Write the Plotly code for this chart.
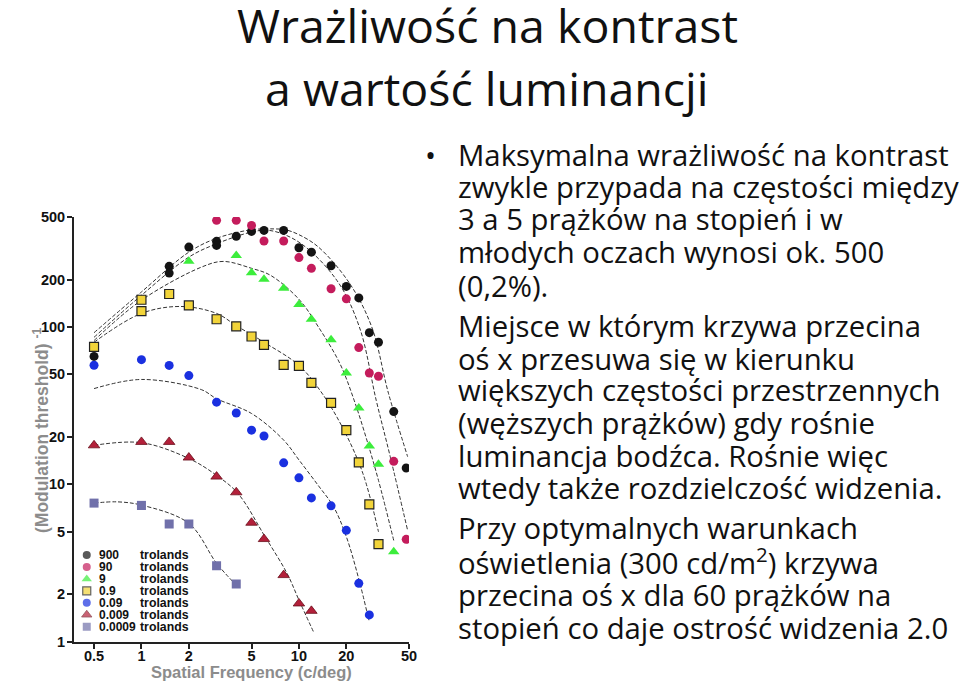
import math
import plotly.graph_objects as go

W, H = 960, 687

# ---------------- data ----------------
series_names = ["900", "90", "9", "0.9", "0.09", "0.009", "0.0009"]

f_900 = [0.5, 1.5, 1.5, 2, 3, 3, 4, 5, 6, 8, 10, 12, 16, 20, 24, 28, 32, 40, 48]
v_900 = [65, 243, 220, 322, 350, 330, 377, 405, 411, 411, 319, 299, 245, 181, 153, 92, 80, 29, 12.7]

f_90 = [3, 4, 5, 6, 8, 10, 12, 16, 20, 24, 28, 32, 40, 48]
v_90 = [476, 476, 442, 352, 352, 276, 236, 175, 151, 74, 51, 48.6, 14, 4.47]

f_9 = [2, 4, 5, 6, 8, 10, 12, 16, 20, 24, 28, 32, 40]
v_9 = [262, 285, 221, 201, 176, 139, 112, 83, 51, 30.6, 17.5, 13.4, 3.73]

f_09 = [0.5, 1, 1, 1.5, 2, 3, 4, 5, 6, 8, 10, 12, 16, 20, 24, 28, 32]
v_09 = [74.7, 149, 126, 162, 137, 112, 101, 87, 77, 57.4, 56.6, 44.1, 32.9, 22.1, 13.8, 7.45, 4.17]

f_009 = [0.5, 1, 1.5, 2, 3, 4, 5, 6, 8, 10, 12, 16, 20, 24, 28]
v_009 = [57.1, 62, 57, 49.1, 33.3, 28.4, 22.1, 20.3, 13.7, 11.0, 8.2, 7.3, 5.1, 2.35, 1.48]

f_0009 = [0.5, 1, 1.5, 2, 3, 4, 5, 6, 8, 10, 12]
v_0009 = [17.7, 18.6, 18.6, 14.8, 11.2, 8.9, 5.7, 4.49, 2.65, 1.75, 1.57]

f_00009 = [0.5, 1, 1.5, 2, 3, 4]
v_00009 = [7.6, 7.35, 5.6, 5.6, 3.04, 2.33]

# fitted curves (sampled along the dashed lines)
cf_900 = [0.5, 1, 2, 3, 5, 7, 8.2, 10, 13.3, 21, 29, 37, 49]
cv_900 = [92, 167, 299, 366, 415, 420, 415, 386, 322, 189, 100, 38, 15]
cf_90 = [0.5, 1, 2, 3, 5, 6.5, 10, 17.4, 24.2, 31, 38, 49]
cv_90 = [86, 159, 278, 338, 401, 411, 346, 198, 100, 34, 15, 5.1]
cf_9 = [0.5, 1, 2.4, 3.3, 5, 6.6, 10, 13.3, 18.2, 22.4, 27, 32, 40]
cv_9 = [82, 148, 240, 261, 236, 213, 150, 100, 58.6, 34.3, 19.1, 10.6, 4.4]
cf_09 = [0.5, 1, 1.78, 3, 4, 6, 10, 14, 19.3, 25.5, 32]
cv_09 = [80, 122, 135, 122, 102, 80, 57, 38, 22.1, 11.7, 5.0]
cf_009 = [0.5, 1, 2.4, 3, 5, 8, 10, 13.3, 16.6, 20, 24, 27.8]
cv_009 = [40.6, 46.4, 40, 35, 28.2, 19.1, 14.3, 9.8, 7.2, 4.65, 2.5, 1.37]
cf_0009 = [0.5, 1, 2, 3, 4.1, 6.1, 8.4, 10, 12.5]
cv_0009 = [17.7, 18.4, 14.6, 11.4, 8.75, 4.64, 2.72, 1.84, 1.13]
cf_00009 = [0.5, 0.7, 1, 2, 3, 3.9]
cv_00009 = [7.6, 7.74, 7.38, 5.65, 3.15, 2.35]

x_ticks = [0.5, 1, 2, 5, 10, 20, 50]
x_tick_labels = ["0.5", "1", "2", "5", "10", "20", "50"]
y_ticks = [1, 2, 5, 10, 20, 50, 100, 200, 500]
y_tick_labels = ["1", "2", "5", "10", "20", "50", "100", "200", "500"]

title_lines = ["Wrażliwość na kontrast", "a wartość luminancji"]
para1 = ["Maksymalna wrażliwość na kontrast", "zwykle przypada na częstości między",
         "3 a 5 prążków na stopień i w", "młodych oczach wynosi ok. 500", "(0,2%)."]
para2 = ["Miejsce w którym krzywa przecina", "oś x przesuwa się w kierunku",
         "większych częstości przestrzennych", "(węższych prążków) gdy rośnie",
         "luminancja bodźca. Rośnie więc", "wtedy także rozdzielczość widzenia."]
para3 = ["Przy optymalnych warunkach", "oświetlenia (300 cd/m<sup>2</sup>) krzywa",
         "przecina oś x dla 60 prążków na", "stopień co daje ostrość widzenia 2.0"]

# ---------------- styles ----------------
styles = [
    dict(symbol="circle", color="#141414", size=9, line=dict(width=0)),
    dict(symbol="circle", color="#c41c5c", size=9, line=dict(width=0)),
    dict(symbol="triangle-up", color="#3ced3c", size=10, line=dict(width=0)),
    dict(symbol="square", color="#f2d43a", size=9, line=dict(width=1.2, color="#222")),
    dict(symbol="circle", color="#1a30e0", size=9, line=dict(width=0)),
    dict(symbol="triangle-up", color="#b3203a", size=10, line=dict(width=0.8, color="#6a0f1c")),
    dict(symbol="square", color="#7070aa", size=9, line=dict(width=0)),
]
points = [(f_900, v_900), (f_90, v_90), (f_9, v_9), (f_09, v_09),
          (f_009, v_009), (f_0009, v_0009), (f_00009, v_00009)]
curves = [(cf_900, cv_900), (cf_90, cv_90), (cf_9, cv_9), (cf_09, cv_09),
          (cf_009, cv_009), (cf_0009, cv_0009), (cf_00009, cv_00009)]

fig = go.Figure()
for (cx, cy) in curves:
    fig.add_trace(go.Scatter(x=cx, y=cy, mode="lines", line_shape="spline",
                             line=dict(color="#333", width=1, dash="4px,2px"),
                             showlegend=False, hoverinfo="skip"))
for (px, py), st in zip(points, styles):
    fig.add_trace(go.Scatter(x=px, y=py, mode="markers", marker=st, showlegend=False))

# manual legend on a helper axis
fig.add_trace(go.Scatter(
    x=[0.45] * len(series_names), y=list(range(len(series_names))), mode="markers",
    marker=dict(symbol=[s["symbol"] for s in styles], color=[s["color"] for s in styles],
                size=[s["size"] - 1 for s in styles],
                line=dict(width=[s["line"]["width"] for s in styles],
                          color=[s["line"].get("color", "#000") for s in styles])),
    xaxis="x2", yaxis="y2", showlegend=False, hoverinfo="skip"))

def px2x(px):
    return px / W

def py2y(py):
    return 1 - py / H

ax_font = dict(family="Liberation Sans", size=14.5, color="#111")
fig.update_layout(
    width=W, height=H, autosize=False,
    margin=dict(l=0, r=0, t=0, b=0, pad=0, autoexpand=False),
    paper_bgcolor="white", plot_bgcolor="white", showlegend=False,
    xaxis=dict(type="log", domain=[px2x(74), px2x(409)],
               range=[math.log10(0.373), math.log10(50)],
               tickvals=x_ticks, ticktext=["<b>%s</b>" % t for t in x_tick_labels],
               tickfont=ax_font, ticks="outside", ticklen=5, tickwidth=1.5, tickcolor="#222",
               ticklabelstandoff=-5,
               showline=True, linecolor="#222", linewidth=1.8, showgrid=False, zeroline=False,
               automargin=False, anchor="y"),
    yaxis=dict(type="log", domain=[py2y(641.7), py2y(217)],
               range=[0, math.log10(500)],
               tickvals=y_ticks, ticktext=["<b>%s</b>" % t for t in y_tick_labels],
               tickfont=ax_font, ticks="outside", ticklen=5, tickwidth=1.5, tickcolor="#222",
               ticklabelstandoff=-1,
               showline=True, linecolor="#222", linewidth=1.8, showgrid=False, zeroline=False,
               automargin=False, anchor="x"),
    xaxis2=dict(domain=[px2x(80), px2x(95)], range=[0, 1], visible=False, anchor="y2",
                automargin=False),
    yaxis2=dict(domain=[py2y(632.7), py2y(549)], range=[6.5, -0.5], visible=False, anchor="x2",
                automargin=False),
)

ann = []
gray = "#8c8c8c"
ann.append(dict(x=px2x(251), y=py2y(672), xref="paper", yref="paper",
                xanchor="center", yanchor="middle",
                text="<b>Spatial Frequency (c/deg)</b>", showarrow=False,
                font=dict(family="Liberation Sans", size=16.5, color=gray)))
ann.append(dict(x=px2x(41), y=py2y(430), xref="paper", yref="paper",
                xanchor="center", yanchor="middle",
                text="<b>(Modulation threshold) <sup>-1</sup></b>", showarrow=False, textangle=-90,
                font=dict(family="Liberation Sans", size=17.5, color=gray)))
for i, name in enumerate(series_names):
    ann.append(dict(x=px2x(97), y=i, xref="paper", yref="y2", xanchor="left", yanchor="middle",
                    text="<b>%s</b>" % name, showarrow=False,
                    font=dict(family="Liberation Sans", size=12, color="#111")))
    ann.append(dict(x=px2x(137.5), y=i, xref="paper", yref="y2", xanchor="left", yanchor="middle",
                    text="<b>trolands</b>", showarrow=False,
                    font=dict(family="Liberation Sans", size=12.3, color="#111")))

tfont = dict(family="Open Sans", size=46.5, color="#111")
for txt, yc in zip(title_lines, [25, 88]):
    ann.append(dict(x=px2x(487), y=py2y(yc), xref="paper", yref="paper", text=txt,
                    xanchor="center", yanchor="middle", showarrow=False, font=tfont))

bfont = dict(family="Open Sans", size=29.3, color="#111")
ann.append(dict(x=px2x(430), y=py2y(155), xref="paper", yref="paper", text="•",
                xanchor="center", yanchor="middle", showarrow=False, font=bfont))
for lines, ys in [(para1, [155, 187, 219, 252, 286]),
                  (para2, [326, 359, 390, 423, 456, 488]),
                  (para3, [528, 561, 595, 628])]:
    for txt, yc in zip(lines, ys):
        ann.append(dict(x=px2x(456), y=py2y(yc), xref="paper", yref="paper", text=txt,
                        xanchor="left", yanchor="middle", showarrow=False, font=bfont))
fig.update_layout(annotations=ann)

fig.write_html("out.html")
